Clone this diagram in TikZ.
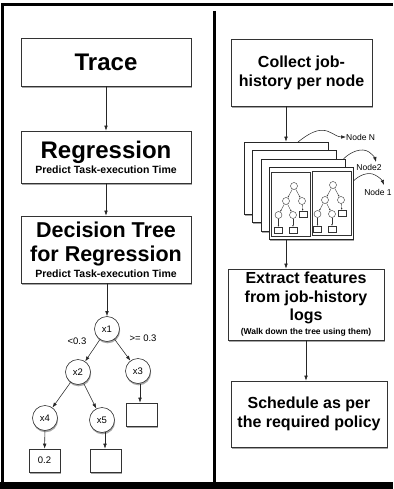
\documentclass[tikz,border=0pt]{standalone}
\usepackage{fontspec}
\setmainfont{Liberation Sans}
\usetikzlibrary{arrows.meta,shadows}
\begin{document}
\begin{tikzpicture}[x=1pt,y=-1pt,
  shad/.style={drop shadow={shadow xshift=0.6pt,shadow yshift=-1.8pt,fill=black,opacity=0.35}},
  box/.style={draw=black!80,line width=0.7pt,fill=white,shad,inner sep=0pt,align=center},
  arr/.style={draw=black!85,line width=0.55pt,-{Latex[length=5pt,width=3.6pt]}},
  tn/.style={circle,draw=black!80,line width=0.6pt,fill=white,minimum size=25pt,inner sep=0pt,font=\fontsize{9.5}{10}\selectfont,shad},
  leaf/.style={draw=black!80,line width=0.6pt,fill=white,minimum width=31pt,minimum height=23pt,inner sep=0pt,font=\fontsize{9.5}{10}\selectfont,shad},
  page/.style={draw=black!85,line width=0.6pt,fill=white,minimum width=84pt,minimum height=72pt,inner sep=0pt,shad},
  panel/.style={draw=black!80,line width=0.5pt,minimum width=39pt,minimum height=64pt,inner sep=0pt},
  mc/.style={circle,draw=black!80,line width=0.4pt,fill=white,minimum size=7pt,inner sep=0pt},
  mb/.style={draw=black!80,line width=0.4pt,fill=white,minimum width=8pt,minimum height=6pt,inner sep=0pt},
  marr/.style={draw=black!80,line width=0.35pt,-{Latex[length=1.6pt,width=1.6pt]}},
  lbl/.style={font=\fontsize{9.5}{10}\selectfont,inner sep=0pt},
  nlbl/.style={font=\fontsize{8.5}{9}\selectfont,inner sep=0pt},
]
\useasboundingbox (0,0) rectangle (393,489);
% frame
\draw[line width=3pt] (2.5,489) -- (2.5,4.6) -- (393,4.6);
\fill (0,482) rectangle (393,489);
\draw[line width=3pt] (214.5,11) -- (214.5,482);

% left column
\node[box,minimum width=170pt,minimum height=48pt,font=\bfseries\fontsize{24}{28}\selectfont] (trace) at (106,62) {Trace};
\node[box,minimum width=170pt,minimum height=52pt,font=\bfseries\fontsize{24}{15}\selectfont] (reg) at (106,157)
  {Regression\\{\fontsize{10.5}{12}\selectfont Predict Task-execution Time}};
\node[box,minimum width=170pt,minimum height=67pt,font=\bfseries\fontsize{21.5}{24}\selectfont] (dt) at (106,249.5)
  {Decision Tree\\for Regression\\[-8pt]{\fontsize{10.5}{12}\selectfont Predict Task-execution Time}};
\draw[arr] (trace) -- (reg);
\draw[arr] (reg) -- (dt);

% tree
\node[tn] (x1) at (107,329) {x1};
\node[tn] (x2) at (78,372) {x2};
\node[tn] (x3) at (138,371) {x3};
\node[tn] (x4) at (45,418) {x4};
\node[tn] (x5) at (102,420) {x5};
\node[leaf] (l3) at (142,414.5) {};
\node[leaf] (l4) at (44.5,460.5) {0.2};
\node[leaf] (l5) at (106,460.5) {};
\draw[arr] (dt.south -| x1) -- (x1);
\draw[arr] (x1) -- (x2);
\draw[arr] (x1) -- (x3);
\draw[arr] (x2) -- (x4);
\draw[arr] (x2) -- (x5);
\draw[arr] (x3.south -| l3.north) ++(-2,0) coordinate (t3) -- (t3 |- l3.north);
\draw[arr] (x4) -- (l4);
\draw[arr] (x5.south) ++(3,-0.5) coordinate (t5) -- (t5 |- l5.north);
\node[lbl] (lt) at (77,341) {<0.3};
\node[lbl] (ge) at (143,338) {>= 0.3};

% right column
\node[box,minimum width=141pt,minimum height=67pt,font=\bfseries\fontsize{16}{19}\selectfont] (collect) at (301.5,72.5)
  {Collect job-\\history per node};
\node[page] (p1) at (286,178) {};
\node[page] (p2) at (294.5,186.5) {};
\node[page] (p3) at (303,195) {};
\node[page] (p4) at (311.5,203.5) {};
\node[panel] (pa) at (291,204) {};
\node[panel] (pb) at (331.5,203.5) {};
\foreach \k/\s/\t in {a/0/0,b/39/-1}{
  \begin{scope}[shift={(\s,\t)}]
    \node[mc] (\k r) at (294,186) {};
    \node[mc] (\k 1) at (286,201) {};
    \node[mc] (\k 2) at (302,201) {};
    \node[mc] (\k 3) at (278.5,215) {};
    \node[mc] (\k 4) at (293,215) {};
    \node[mb] (\k 5) at (303,214) {};
    \node[mb] (\k 6) at (278.5,230) {};
    \node[mb] (\k 7) at (293,230) {};
    \draw[marr] (\k r) -- (\k 1);
    \draw[marr] (\k r) -- (\k 2);
    \draw[marr] (\k 1) -- (\k 3);
    \draw[marr] (\k 1) -- (\k 4);
    \draw[marr] (\k 2) -- (\k 5);
    \draw[marr] (\k 3) -- (\k 6);
    \draw[marr] (\k 4) -- (\k 7);
  \end{scope}
}
\draw[arr] (collect.south -| p1.north) -- (p1.north);

\node[nlbl,anchor=west] (nN) at (346,137) {Node N};
\node[nlbl] (n2) at (369,167) {Node2};
\node[nlbl] (n1) at (378,192) {Node 1};
\coordinate (sN) at (298,142);
\coordinate (s2) at (343.5,159);
\coordinate (s1) at (353.5,181);
\draw[arr] (sN) .. controls (308,134) and (318,128) .. (327,131) .. controls (333,133) and (337,137) .. (nN.west);
\draw[arr] (s2) .. controls (350,152) and (362,147) .. (369,152) .. controls (373,155) and (375,158) .. (376,162);
\draw[arr] (s1) .. controls (358,176) and (368,171) .. (375,175) .. controls (379,177) and (382,180) .. (384,185);

\node[box,minimum width=156pt,minimum height=71pt,font=\bfseries\fontsize{16}{18.5}\selectfont] (extract) at (306,304.5)
  {Extract features\\from job-history\\logs\\[-4.5pt]{\fontsize{8.5}{10}\selectfont (Walk down the tree using them)}};
\node[box,minimum width=156pt,minimum height=66pt,font=\bfseries\fontsize{16}{19}\selectfont] (sched) at (309,414)
  {Schedule as per\\the required policy};
\draw[arr] (p4.south -| p1.north) -- (extract.north -| p1.north);
\draw[arr] (extract.south) -- (extract.south |- sched.north);
\end{tikzpicture}
\end{document}
